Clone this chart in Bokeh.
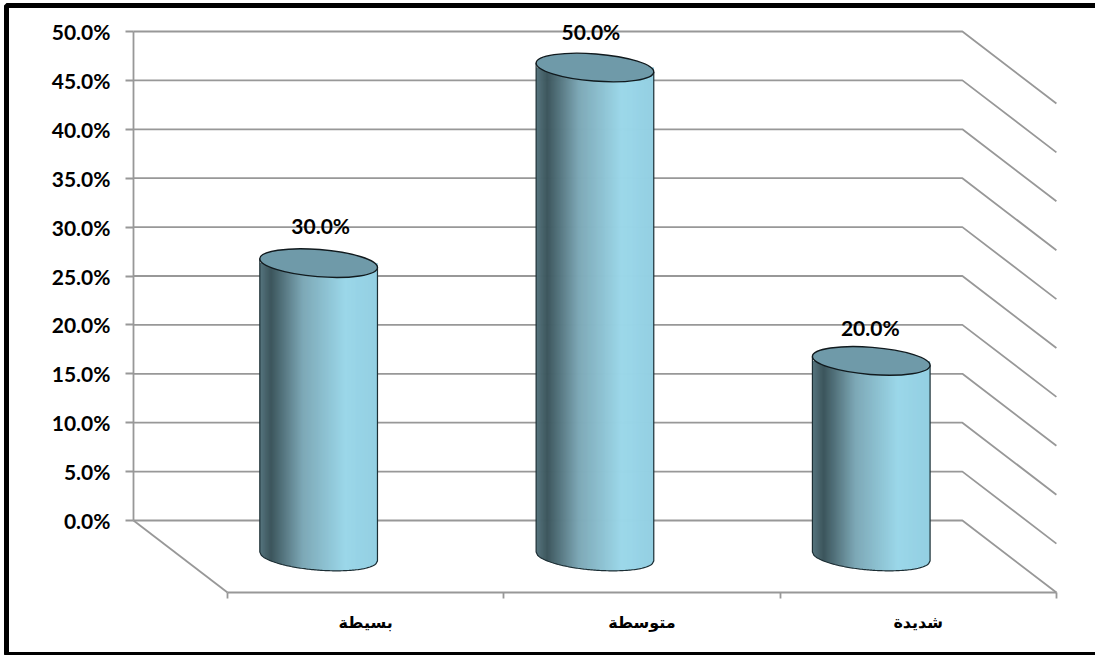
import numpy as np
from bokeh.plotting import figure
from bokeh.models import ColumnDataSource, LinearAxis, FixedTicker, BoxAnnotation, Range1d
from bokeh.core.properties import value
from bokeh.embed import file_html
from bokeh.resources import INLINE

# ---- data ----
categories = ["بسيطة", "متوسطة", "شديدة"]
values = [30.0, 50.0, 20.0]
y_ticks = [0, 5, 10, 15, 20, 25, 30, 35, 40, 45, 50]
label_offsets_x = [2, -4, -1]
label_offsets_y = [38, 36, 33]

# ---- layout ----
W, H = 1095, 655
X0, CAT_W = 133.0, 276.3      # px of back-wall origin, px per category
Y0, PCT = 520.0, 9.78         # px of 0 %, px per percent
DEPTH_X, DEPTH_Y = 94 / CAT_W, 72 / PCT   # floor depth in data units
A, B, TH = 59.0, 13.6, np.deg2rad(4.5)    # cylinder-section ellipse in px

p = figure(width=W, height=H, output_backend="svg", toolbar_location=None,
           x_range=Range1d(-X0 / CAT_W, (W - X0) / CAT_W),
           y_range=Range1d(-(H - Y0) / PCT, Y0 / PCT),
           min_border=0, outline_line_color=None, background_fill_color="white",
           x_axis_type=None, y_axis_type=None)
p.grid.visible = False

GRID = "#989898"
LW = 1.8
FONT = "Lato"

# walls and floor
n = len(categories)
grid_xs = [[0, n, n + DEPTH_X] for _ in y_ticks]
grid_ys = [[v, v, v - DEPTH_Y] for v in y_ticks]
p.multi_line(grid_xs, grid_ys, line_color=GRID, line_width=LW)
p.line([0, DEPTH_X], [0, -DEPTH_Y], line_color=GRID, line_width=LW)

# axes
yax = LinearAxis(fixed_location=0, bounds=(0, 50), ticker=FixedTicker(ticks=y_ticks),
                 major_label_overrides={v: f"{v:.1f}%" for v in y_ticks},
                 axis_line_color=GRID, axis_line_width=LW,
                 major_tick_line_color=GRID, major_tick_line_width=LW,
                 major_tick_out=8, major_tick_in=0, minor_tick_line_color=None,
                 major_label_standoff=15,
                 major_label_text_font=FONT, major_label_text_font_style="bold",
                 major_label_text_font_size="21px", major_label_text_color="black")
p.add_layout(yax, "left")

edges = [DEPTH_X + i for i in range(n + 1)]
xax = LinearAxis(fixed_location=-DEPTH_Y, bounds=(DEPTH_X, DEPTH_X + n),
                 ticker=FixedTicker(ticks=edges),
                 major_label_overrides={e: "" for e in edges},
                 axis_line_color=GRID, axis_line_width=LW,
                 major_tick_line_color=GRID, major_tick_line_width=LW,
                 major_tick_out=6, major_tick_in=0, minor_tick_line_color=None)
p.add_layout(xax, "below")

centers = [DEPTH_X + i + 0.5 for i in range(n)]
cax = LinearAxis(fixed_location=-DEPTH_Y, ticker=FixedTicker(ticks=centers),
                 major_label_overrides=dict(zip(centers, categories)),
                 axis_line_color=None, major_tick_line_color=None, minor_tick_line_color=None,
                 major_label_standoff=14,
                 major_label_text_font="DejaVu Sans", major_label_text_font_style="bold",
                 major_label_text_font_size="16px", major_label_text_color="black")
p.add_layout(cax, "below")

# cylinders
def lerp_color(f):
    stops = [(0.0, (0x55, 0x74, 0x7d)), (0.09, (0x3c, 0x55, 0x5c)), (0.36, (0x7d, 0xa8, 0xb6)),
             (0.72, (0x9b, 0xd7, 0xe9)), (1.0, (0x93, 0xcf, 0xe2))]
    for (f0, c0), (f1, c1) in zip(stops, stops[1:]):
        if f <= f1:
            t = (f - f0) / (f1 - f0)
            return "#%02x%02x%02x" % tuple(int(round(a + (b - a) * t)) for a, b in zip(c0, c1))
    return "#93cfe2"

s, c = np.sin(TH), np.cos(TH)
halfw = np.sqrt(A**2 * c**2 + B**2 * s**2)
def arc(dx):
    """px-down offset of the lower side of the section ellipse at px offset dx"""
    a2, b2 = A**2, B**2
    qa = s**2 / a2 + c**2 / b2
    qb = 2 * dx * s * c * (1 / a2 - 1 / b2)
    qc = dx**2 * (c**2 / a2 + s**2 / b2) - 1
    d = np.sqrt(np.maximum(qb**2 - 4 * qa * qc, 0))
    return (-qb + d) / (2 * qa)

sx, sy, scol = [], [], []
out_x, out_y = [], []
tops_x, tops_y = [], []
STEP = 1.0
for i, v in enumerate(values):
    cx = i + 0.5 + DEPTH_X / 2
    cy0 = -DEPTH_Y / 2
    top = cy0 + v
    tops_x.append(cx); tops_y.append(top)
    for d in np.arange(-halfw, halfw, STEP):
        d2 = min(d + STEP + 0.8, halfw)
        sx.append([cx + d / CAT_W, cx + d2 / CAT_W, cx + d2 / CAT_W, cx + d / CAT_W])
        sy.append([top, top, cy0 - arc(d2) / PCT, cy0 - arc(d) / PCT])
        scol.append(lerp_color((d + halfw) / (2 * halfw)))
    ds = np.linspace(-halfw, halfw, 80)
    lx = list(cx + ds / CAT_W)
    ly = list(cy0 - arc(ds) / PCT)
    out_x.append([lx[0]] + lx + [lx[-1]])
    out_y.append([top - arc(-halfw) / PCT] + ly + [top - arc(halfw) / PCT])

p.patches(sx, sy, fill_color=scol, line_color=None)
p.multi_line(out_x, out_y, line_color="#1c2e34", line_width=1.2)
p.ellipse(tops_x, tops_y, width=2 * A, height=2 * B, angle=-TH,
          width_units="screen", height_units="screen",
          fill_color="#6f9aa9", line_color="#111a1e", line_width=1.4)

# data labels
src = ColumnDataSource(dict(x=tops_x, y=tops_y, t=[f"{v:.1f}%" for v in values],
                            xo=label_offsets_x, yo=[-o for o in label_offsets_y]))
p.text("x", "y", text="t", x_offset="xo", y_offset="yo", source=src,
       text_align="center", text_baseline="middle", text_font=value(FONT),
       text_font_style="bold", text_font_size="21px", text_color="black")

# chart border (left, top, bottom; right edge falls outside the picture)
p.add_layout(BoxAnnotation(left=6, right=W + 10, top=1, bottom=650,
                           left_units="screen", right_units="screen",
                           top_units="screen", bottom_units="screen",
                           fill_color=None, fill_alpha=0, line_color="black", line_width=5, line_alpha=1))

open("out.html", "w").write(file_html(p, INLINE))
